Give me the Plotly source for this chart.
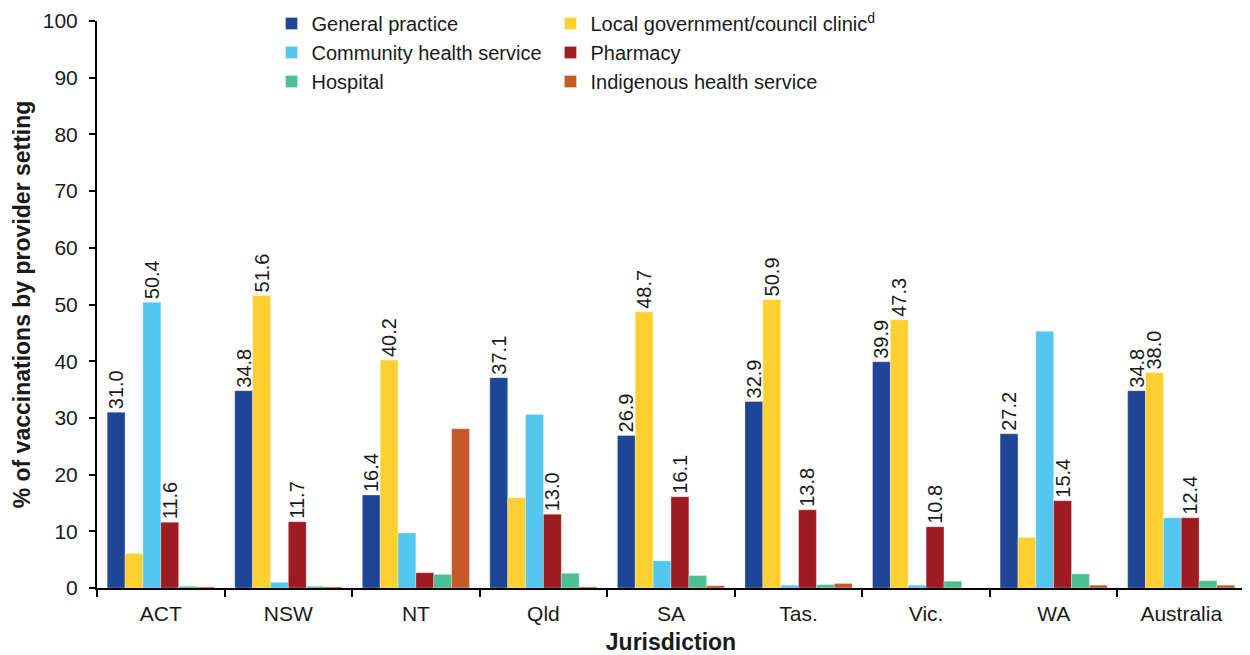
import plotly.graph_objects as go

jurisdictions = ["ACT", "NSW", "NT", "Qld", "SA", "Tas.", "Vic.", "WA", "Australia"]

general_practice = [31.0, 34.8, 16.4, 37.1, 26.9, 32.9, 39.9, 27.2, 34.8]
local_government = [6.1, 51.6, 40.2, 15.9, 48.7, 50.9, 47.3, 8.9, 38.0]
community_health = [50.4, 1.0, 9.7, 30.6, 4.8, 0.5, 0.5, 45.3, 12.4]
pharmacy = [11.6, 11.7, 2.7, 13.0, 16.1, 13.8, 10.8, 15.4, 12.4]
hospital = [0.3, 0.3, 2.4, 2.6, 2.2, 0.6, 1.2, 2.5, 1.3]
indigenous = [0.2, 0.2, 28.1, 0.2, 0.4, 0.8, 0.0, 0.5, 0.5]

gp_labels = ["31.0", "34.8", "16.4", "37.1", "26.9", "32.9", "39.9", "27.2", "34.8"]
lg_labels = ["", "51.6", "40.2", "", "48.7", "50.9", "47.3", "", "38.0"]
chs_labels = ["50.4", "", "", "", "", "", "", "", ""]
ph_labels = ["11.6", "11.7", "", "13.0", "16.1", "13.8", "10.8", "15.4", "12.4"]
empty_labels = [""] * 9

series = [
    ("General practice", general_practice, gp_labels, "#1F4596", "legend"),
    ("Local government/council clinic<sup>d</sup>", local_government, lg_labels, "#FFD02F", "legend2"),
    ("Community health service", community_health, chs_labels, "#52C8F0", "legend"),
    ("Pharmacy", pharmacy, ph_labels, "#9E1B22", "legend2"),
    ("Hospital", hospital, empty_labels, "#4DBF94", "legend"),
    ("Indigenous health service", indigenous, empty_labels, "#C55A28", "legend2"),
]

FONT = "Liberation Sans, Arial, sans-serif"

fig = go.Figure()
for name, vals, labels, color, leg in series:
    fig.add_trace(go.Bar(
        name=name, x=jurisdictions, y=vals,
        marker=dict(color=color, line=dict(color="rgba(255,255,255,0.6)", width=0.5)),
        text=labels, textposition="outside", textangle=-90,
        textfont=dict(family=FONT, size=20, color="#1a1a1a"),
        constraintext="none", cliponaxis=False,
        legend=leg,
    ))

legend_common = dict(
    orientation="v", bgcolor="rgba(0,0,0,0)",
    font=dict(family=FONT, size=20, color="#1a1a1a"),
    xanchor="left", yanchor="top", tracegroupgap=0, itemwidth=30,
)

fig.update_layout(
    width=1250, height=655,
    margin=dict(l=89, r=13, t=13, b=75, autoexpand=False),
    paper_bgcolor="white", plot_bgcolor="white",
    barmode="group", bargap=0.16, bargroupgap=0,
    font=dict(family=FONT, size=21, color="#1a1a1a"),
    showlegend=True,
    legend=dict(x=0.152, y=1.03, **legend_common),
    legend2=dict(x=0.395, y=1.03, **legend_common),
    xaxis=dict(
        title=dict(text="<b>Jurisdiction</b>", font=dict(family=FONT, size=23), standoff=10),
        showline=True, linecolor="black", linewidth=2,
        ticks="outside", ticklen=7, tickcolor="black", tickwidth=1.5, tickson="boundaries",
        tickfont=dict(family=FONT, size=21), ticklabelstandoff=6,
        showgrid=False, automargin=False,
    ),
    yaxis=dict(
        title=dict(text="<b>% of vaccinations by provider setting</b>", font=dict(family=FONT, size=23), standoff=6),
        range=[0, 100], dtick=10,
        showline=True, linecolor="black", linewidth=2,
        ticks="outside", ticklen=6, tickcolor="black", tickwidth=1.5,
        tickfont=dict(family=FONT, size=21), ticklabelstandoff=7,
        ticklabeloverflow="allow",
        showgrid=False, zeroline=False, automargin=False,
    ),
)

fig.write_html("out.html")
